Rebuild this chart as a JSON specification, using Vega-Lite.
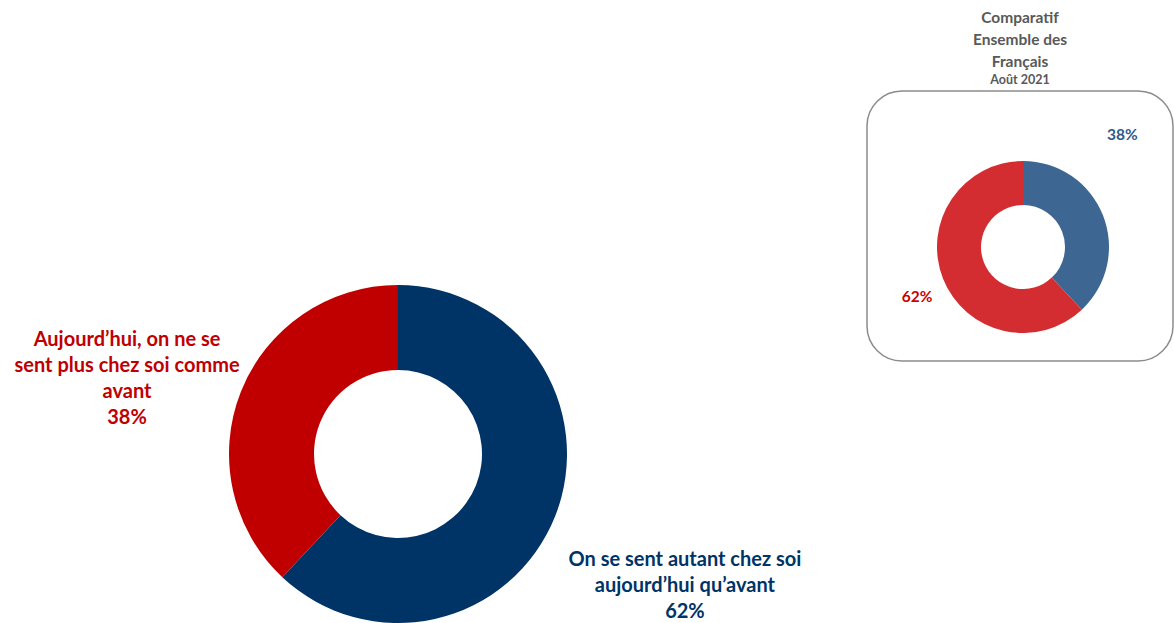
{
  "$schema": "https://vega.github.io/schema/vega-lite/v6.json",
  "padding": {"top": 10, "left": 0, "right": 0, "bottom": 0},
  "spacing": 0,
  "background": "white",
  "config": {"view": {"stroke": null}, "font": "Lato"},
  "resolve": {"scale": {"color": "independent", "theta": "independent"}},
  "datasets": {
    "principal": [
      {"panel": "Ensemble", "categorie": "On se sent autant chez soi aujourd’hui qu’avant", "libelle": "On se sent autant chez soi\naujourd’hui qu’avant", "pct": 62, "ordre": 1},
      {"panel": "Ensemble", "categorie": "Aujourd’hui, on ne se sent plus chez soi comme avant", "libelle": "Aujourd’hui, on ne se\nsent plus chez soi comme\navant", "pct": 38, "ordre": 2}
    ],
    "comparatif": [
      {"panel": "Comparatif", "categorie": "On se sent autant chez soi aujourd’hui qu’avant", "pct": 38, "ordre": 1},
      {"panel": "Comparatif", "categorie": "Aujourd’hui, on ne se sent plus chez soi comme avant", "pct": 62, "ordre": 2}
    ]
  },
  "hconcat": [
    {
      "width": 866,
      "height": 523,
      "data": {"name": "principal"},
      "transform": [{"calculate": "datum.libelle + '\\n' + datum.pct + '%'", "as": "texte"}],
      "encoding": {
        "x": {"field": "panel", "type": "nominal", "scale": {"type": "point", "range": [398, 398]}, "axis": null},
        "y": {"field": "panel", "type": "nominal", "scale": {"type": "point", "range": [363, 363]}, "axis": null},
        "theta": {"field": "pct", "type": "quantitative", "stack": true},
        "order": {"field": "ordre", "type": "quantitative"},
        "color": {
          "field": "categorie", "type": "nominal", "legend": null,
          "scale": {"domain": ["On se sent autant chez soi aujourd’hui qu’avant", "Aujourd’hui, on ne se sent plus chez soi comme avant"], "range": ["#003366", "#c00000"]}
        }
      },
      "layer": [
        {"mark": {"type": "arc", "radius": 169, "innerRadius": 84}},
        {
          "mark": {"type": "text", "radius": 300, "dx": 8, "dy": -4, "fontSize": 20, "fontWeight": "bold", "lineHeight": 26, "lineBreak": "\n", "align": "center", "baseline": "middle"},
          "encoding": {"text": {"field": "texte"}}
        }
      ]
    },
    {
      "width": 306,
      "height": 270,
      "data": {"name": "comparatif"},
      "title": {"text": ["Comparatif", "Ensemble des", "Français"], "subtitle": "Août 2021", "fontSize": 15.5, "lineHeight": 22, "fontWeight": "bold", "color": "#595959", "subtitleColor": "#595959", "subtitleFontSize": 12.5, "subtitleFontWeight": "bold", "subtitlePadding": 3, "anchor": "middle", "offset": 5},
      "view": {"stroke": "#8c8c8c", "strokeWidth": 1.5, "cornerRadius": 35},
      "encoding": {
        "x": {"field": "panel", "type": "nominal", "scale": {"type": "point", "range": [156, 156]}, "axis": null},
        "y": {"field": "panel", "type": "nominal", "scale": {"type": "point", "range": [156, 156]}, "axis": null}
      },
      "layer": [
        {
          "mark": {"type": "arc", "radius": 86, "innerRadius": 42},
          "encoding": {
            "theta": {"field": "pct", "type": "quantitative", "stack": true},
            "order": {"field": "ordre", "type": "quantitative"},
            "color": {
              "field": "categorie", "type": "nominal", "legend": null,
              "scale": {"domain": ["On se sent autant chez soi aujourd’hui qu’avant", "Aujourd’hui, on ne se sent plus chez soi comme avant"], "range": ["#3d6693", "#d42d31"]}
            }
          }
        },
        {
          "transform": [{"filter": "datum.ordre == 1"}, {"calculate": "datum.pct + '%'", "as": "texte"}],
          "mark": {"type": "text", "theta": 0.724, "radius": 150, "fontSize": 15.5, "fontWeight": "bold", "fill": "#2e5a8a", "align": "center", "baseline": "middle"},
          "encoding": {"text": {"field": "texte"}}
        },
        {
          "transform": [{"filter": "datum.ordre == 2"}, {"calculate": "datum.pct + '%'", "as": "texte"}],
          "mark": {"type": "text", "theta": 4.271, "radius": 117, "fontSize": 15.5, "fontWeight": "bold", "fill": "#cc0000", "align": "center", "baseline": "middle"},
          "encoding": {"text": {"field": "texte"}}
        }
      ]
    }
  ]
}
